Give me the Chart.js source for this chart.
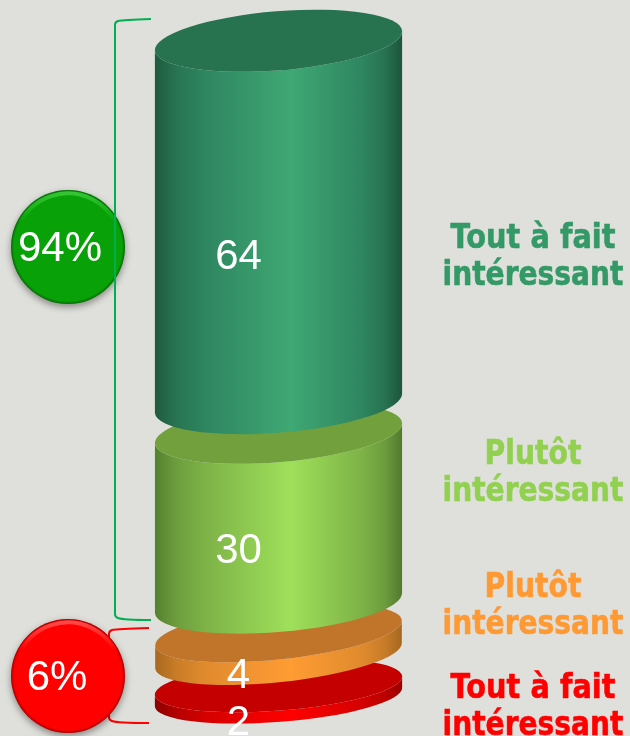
<!DOCTYPE html>
<html>
<head>
<meta charset="utf-8">
<script src="https://cdn.jsdelivr.net/npm/chart.js@4"></script>
<style>
  html, body { margin: 0; padding: 0; background: #dfe0db; overflow: hidden; }
  canvas { display: block; }
</style>
</head>
<body>
<canvas id="chart" width="630" height="736"></canvas>
<script>
// top to bottom, as stacked in the picture
const labels = ["Tout à fait intéressant", "Plutôt intéressant", "Plutôt intéressant", "Tout à fait intéressant"];
const values = [64, 30, 4, 2];
const groupTotals = [94, 6];

const GAP = 5.3; // empty room between slices, in value units
const FONT = "'Liberation Sans', Arial, sans-serif";
const LABEL_FONT = "bold 33px 'DejaVu Sans', sans-serif";

const looks = [
  { left: "#1f5a3f", side: "#2e8560", mid: "#3fa873", right: "#1c553b", lid: "#27734f", text: "#339966", ry: 29.5, tilt: 4.6 },
  { left: "#55812f", side: "#7db247", mid: "#9fe05a", right: "#527a2d", lid: "#72a03d", text: "#92d050", ry: 29, tilt: 4.8 },
  { left: "#a8691f", side: "#e08a2e", mid: "#ff9c33", right: "#a5671f", lid: "#c0752a", text: "#ff9933", ry: 26.5, tilt: 6 },
  { left: "#8a0000", side: "#d40000", mid: "#ff0000", right: "#9a0000", lid: "#c40000", text: "#ff0000", ry: 25, tilt: 4.4 }
];
// where the side captions sit, and how wide each line runs
const captionY = [239, 455, 588, 689];
const lineWidths = { "Tout à fait": 165, "Plutôt": 97, "intéressant": 181 };

// floating ranges, bottom slice first
const ranges = [];
let cursor = 0;
for (let i = values.length - 1; i >= 0; i--) {
  ranges[i] = [cursor, cursor + values[i]];
  cursor += values[i] + GAP;
}

const RX = 124;

function mix(a, b) {
  const ch = (s, k) => parseInt(s.substr(1 + k * 2, 2), 16);
  const parts = [0, 1, 2].map(k => Math.round((ch(a, k) * 0.4 + ch(b, k) * 0.6)));
  return `rgb(${parts.join(",")})`;
}

function drawSlice(ctx, el, look) {
  const cx = el.x, top = el.y, bottom = el.base;
  const rot = -look.tilt * Math.PI / 180;
  const dx = RX * Math.cos(rot), dy = RX * Math.sin(rot);
  const g = ctx.createLinearGradient(cx - dx, 0, cx + dx, 0);
  g.addColorStop(0, look.left);
  g.addColorStop(0.09, mix(look.left, look.side));
  g.addColorStop(0.2, look.side);
  g.addColorStop(0.55, look.mid);
  g.addColorStop(0.84, look.side);
  g.addColorStop(0.93, mix(look.right, look.side));
  g.addColorStop(1, look.right);
  ctx.beginPath();
  ctx.ellipse(cx, bottom, RX, look.ry, rot, Math.PI, 0, true);
  ctx.lineTo(cx + dx, top + dy);
  ctx.ellipse(cx, top, RX, look.ry, rot, 0, Math.PI, false);
  ctx.closePath();
  ctx.fillStyle = g;
  ctx.fill();
  ctx.beginPath();
  ctx.ellipse(cx, top, RX, look.ry, rot, 0, Math.PI * 2);
  ctx.fillStyle = look.lid;
  ctx.fill();
}

function drawBracket(ctx, color, x, endX, y1, y2) {
  ctx.save();
  ctx.strokeStyle = color;
  ctx.lineWidth = 2;
  ctx.beginPath();
  ctx.moveTo(endX, y1);
  ctx.quadraticCurveTo(x + 8, y1 + 1, x + 3, y1 + 2);
  ctx.quadraticCurveTo(x, y1 + 3, x, y1 + 6);
  ctx.lineTo(x, y2 - 6);
  ctx.quadraticCurveTo(x, y2 - 3, x + 3, y2 - 2);
  ctx.quadraticCurveTo(x + 8, y2, endX, y2);
  ctx.stroke();
  ctx.restore();
}

function drawBadge(ctx, x, y, r, base, light, text, textX) {
  // soft shadow under the disc
  ctx.save();
  ctx.shadowColor = "rgba(0,0,0,0.4)";
  ctx.shadowBlur = 7;
  ctx.shadowOffsetY = 3;
  ctx.beginPath();
  ctx.arc(x, y, r, 0, Math.PI * 2);
  ctx.fillStyle = base;
  ctx.fill();
  ctx.restore();

  // darker edge all the way round
  const edge = ctx.createRadialGradient(x, y, r - 3, x, y, r);
  edge.addColorStop(0, "rgba(0,0,0,0)");
  edge.addColorStop(1, "rgba(0,0,0,0.35)");
  ctx.beginPath();
  ctx.arc(x, y, r, 0, Math.PI * 2);
  ctx.fillStyle = edge;
  ctx.fill();

  // light bevel on the upper rim
  const bevel = ctx.createLinearGradient(0, y - r, 0, y - r * 0.45);
  bevel.addColorStop(0, light);
  bevel.addColorStop(1, base);
  ctx.lineWidth = 4;
  ctx.strokeStyle = bevel;
  ctx.beginPath();
  ctx.arc(x, y, r - 3.5, Math.PI * 1.15, Math.PI * 1.85);
  ctx.stroke();

  ctx.fillStyle = "#ffffff";
  ctx.font = "42px " + FONT;
  ctx.textAlign = "center";
  ctx.textBaseline = "middle";
  ctx.fillText(text, textX, y + 2);
}

const cylinderPlugin = {
  id: "cylinder",
  afterDatasetsDraw(chart) {
    const { ctx } = chart;
    const metas = values.map((v, i) => chart.getDatasetMeta(i).data[0]);

    // brackets go under the badges except the green line, which runs over its badge
    drawBracket(ctx, "#ff0000", 109, 149, 628, 723);
    drawBadge(ctx, 68, 247, 57, "#08a208", "#38c838", groupTotals[0] + "%", 60);
    drawBadge(ctx, 68, 676, 57, "#ff0000", "#ff5050", groupTotals[1] + "%", 57);
    drawBracket(ctx, "#00b050", 115, 151, 19, 620);

    // lower slices first so the upper ones sit in front
    for (let i = values.length - 1; i >= 0; i--) drawSlice(ctx, metas[i], looks[i]);

    // value labels and side captions
    ctx.save();
    ctx.textAlign = "center";
    ctx.textBaseline = "middle";
    values.forEach((v, i) => {
      const el = metas[i];
      ctx.fillStyle = "#ffffff";
      ctx.font = "42px " + FONT;
      ctx.fillText(String(v), el.x - 40, (el.y + el.base) / 2 + 32 + v * 0.05);

      const words = labels[i].split(" ");
      const second = words.pop();
      const first = words.join(" ");
      ctx.fillStyle = looks[i].text;
      ctx.strokeStyle = looks[i].text;
      ctx.lineWidth = 0.6;
      ctx.font = LABEL_FONT;
      ctx.fillText(first, 533, captionY[i], lineWidths[first]);
      ctx.strokeText(first, 533, captionY[i], lineWidths[first]);
      ctx.fillText(second, 533, captionY[i] + 37, lineWidths[second]);
      ctx.strokeText(second, 533, captionY[i] + 37, lineWidths[second]);
    });
    ctx.restore();
  }
};

new Chart(document.getElementById("chart"), {
  type: "bar",
  data: {
    labels: ["Intérêt"],
    datasets: values.map((v, i) => ({
      label: labels[i],
      data: [ranges[i]],
      backgroundColor: "transparent",
      barThickness: 247
    }))
  },
  options: {
    responsive: false,
    animation: false,
    grouped: false,
    layout: { padding: { right: 73 } },
    plugins: { legend: { display: false }, tooltip: { enabled: false } },
    scales: {
      x: { display: false },
      y: { display: false, min: -6.9, max: 123.1 }
    }
  },
  plugins: [cylinderPlugin]
});
</script>
</body>
</html>
